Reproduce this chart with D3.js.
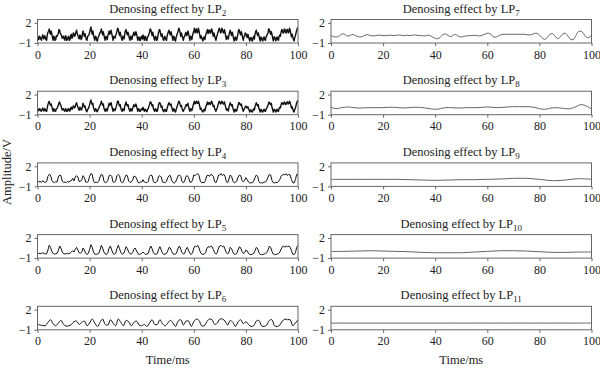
<!DOCTYPE html>
<head>
<meta charset="utf-8">
<style>
  body { margin: 0; background: #fff; }
  svg text { font-family: "Liberation Serif", "DejaVu Serif", serif; }
  .frame { fill: none; stroke: #666; stroke-width: 1; }
  .axis path { display: none; }
  .axis line { stroke: #666; }
  .axis text { font-size: 12px; fill: #222; }
  .title { font-size: 12.5px; fill: #222; text-anchor: middle; }
  .label { font-size: 12.5px; fill: #222; text-anchor: middle; }
  .signal { fill: none; stroke-linejoin: round; }
</style>
</head>
<body>

<svg width="600" height="368"></svg>
<script src="https://d3js.org/d3.v7.min.js"></script>

<script>

var xTicks = [0, 20, 40, 60, 80, 100];
var yTicks = [-1, 2];
var panelNames = ["2", "3", "4", "5", "6", "7", "8", "9", "10", "11"];
// sample spacing (ms) of each series
var sampleSteps = [0.25, 0.25, 0.5, 0.5, 1, 1, 2, 5, 5, 5];

// values, one per sample
var lp2 = [
  0.1,-0.3,-0.5,0.0,-0.1,-0.4,-0.6,-0.1,0.2,-0.2,-0.4,0.1,-0.1,-0.5,-0.6,0.2,0.6,0.7,1.1,0.5,0.3,0.8,0.4,-0.2,-0.6,0.0,-0.1,-0.6,-0.5,0.1,0.0,0.2,0.5,1.0,0.9,0.4,0.3,0.1,-0.3,-0.1,
  0.0,-0.4,-0.6,0.1,-0.1,-0.6,-0.5,-0.1,0.0,-0.6,-0.5,0.1,0.3,-0.3,-0.1,0.5,0.4,0.0,0.2,0.6,0.9,0.4,0.1,-0.2,-0.4,0.2,0.1,-0.5,-0.3,0.4,0.8,0.3,0.0,0.4,-0.1,-0.5,-0.6,0.0,0.1,0.2,
  0.6,1.0,1.4,0.7,0.3,0.8,0.2,-0.3,-0.6,0.0,-0.1,-0.6,-0.7,-0.2,0.0,0.3,0.5,0.7,1.1,0.6,0.2,0.7,0.2,-0.3,-0.6,0.0,-0.2,-0.5,0.1,0.4,0.8,0.3,0.5,0.9,0.4,-0.1,-0.6,0.0,-0.1,-0.3,
  0.1,0.4,0.7,1.2,1.1,0.5,0.1,0.6,0.1,-0.3,-0.6,0.0,-0.1,-0.4,0.4,0.8,1.0,0.5,0.2,0.6,0.2,-0.3,-0.6,0.0,-0.1,-0.5,0.1,0.3,0.6,0.1,0.2,0.7,0.4,-0.1,-0.6,-0.2,-0.1,-0.6,-0.6,-0.1,
  0.0,-0.4,0.2,-0.2,-0.6,0.0,-0.1,-0.6,-0.6,-0.1,0.0,0.3,0.6,1.1,1.0,0.5,0.1,0.6,0.1,-0.4,-0.6,0.0,-0.1,-0.6,-0.5,0.1,0.6,1.0,0.9,0.4,0.0,0.4,-0.1,-0.5,-0.6,0.0,-0.1,-0.5,-0.6,0.0,
  0.4,0.7,0.9,0.4,0.2,0.7,0.3,-0.2,-0.6,0.0,-0.1,-0.6,-0.7,-0.1,0.2,0.5,0.8,1.2,1.0,0.5,0.0,0.5,0.1,-0.3,-0.6,-0.1,0.0,0.4,0.6,0.1,0.3,0.8,0.4,-0.1,-0.6,0.0,-0.1,-0.5,0.1,0.5,
  0.8,1.2,0.5,0.9,1.1,0.5,0.6,1.2,0.8,0.3,-0.3,0.1,-0.1,-0.5,-0.7,-0.2,-0.1,-0.5,0.1,0.4,0.7,1.0,0.4,0.9,0.9,0.5,0.5,1.1,1.0,0.4,0.0,0.5,0.1,-0.3,-0.6,-0.1,0.2,0.6,0.8,1.2,
  1.0,0.5,0.6,1.2,1.0,0.6,0.5,1.0,0.6,0.0,-0.5,0.0,-0.1,-0.4,0.2,0.6,0.9,0.4,0.1,0.6,0.2,-0.3,-0.7,-0.2,-0.1,-0.6,-0.5,0.0,0.5,1.0,0.9,0.4,0.2,0.7,0.3,-0.2,-0.6,-0.1,0.1,0.5,
  0.4,0.0,-0.2,0.3,0.0,-0.4,-0.7,-0.2,-0.2,-0.6,-0.7,-0.2,0.0,-0.4,0.3,0.7,0.9,0.4,0.1,0.5,0.1,-0.4,-0.7,-0.1,-0.2,-0.6,-0.7,-0.2,-0.1,-0.5,-0.6,-0.1,0.1,0.3,0.5,1.1,1.0,0.6,0.3,0.7,
  0.3,-0.2,-0.7,-0.1,-0.1,-0.5,-0.7,-0.2,-0.1,-0.5,-0.6,0.0,0.2,0.0,0.6,1.0,0.9,0.5,0.5,1.1,1.0,0.6,0.5,1.0,1.0,0.5,0.6,1.2,0.9,0.4,-0.1,0.3,-0.1,-0.5,-0.7,-0.2,0.1,0.5,0.9,1.2,
  1.3
];
var lp3 = [
  -0.1,-0.3,-0.4,-0.1,-0.2,-0.4,-0.5,-0.2,0.0,-0.3,-0.45,-0.1,-0.2,-0.45,-0.5,0.0,0.5,0.8,1.0,0.6,0.4,0.6,0.2,-0.2,-0.5,-0.1,-0.2,-0.5,-0.45,-0.1,-0.1,0.2,0.4,0.8,0.9,0.5,0.4,0.0,-0.3,-0.1,
  -0.15,-0.4,-0.5,-0.1,-0.2,-0.5,-0.45,-0.1,-0.1,-0.45,-0.4,0.0,0.1,-0.2,0.0,0.3,0.2,0.0,0.3,0.6,0.8,0.4,0.1,-0.1,-0.35,0.1,0.0,-0.3,-0.2,0.3,0.7,0.4,0.1,0.3,-0.2,-0.45,-0.55,-0.2,-0.1,0.1,
  0.5,0.9,1.2,0.8,0.5,0.7,0.0,-0.2,-0.5,-0.1,-0.2,-0.5,-0.55,-0.2,-0.1,0.2,0.4,0.6,1.0,0.7,0.4,0.6,0.0,-0.3,-0.5,-0.1,-0.3,-0.45,0.0,0.3,0.7,0.4,0.6,0.8,0.3,-0.1,-0.5,-0.1,-0.2,-0.4,
  -0.1,0.2,0.6,1.0,1.0,0.6,0.3,0.5,-0.1,-0.3,-0.5,-0.1,-0.2,-0.4,0.3,0.6,0.9,0.5,0.3,0.5,0.0,-0.3,-0.5,-0.1,-0.2,-0.45,-0.1,0.2,0.5,0.2,0.3,0.6,0.3,-0.1,-0.5,-0.1,-0.2,-0.5,-0.5,-0.2,
  -0.1,-0.3,0.1,-0.1,-0.5,-0.2,-0.2,-0.5,-0.55,-0.2,-0.1,0.2,0.5,0.9,0.9,0.6,0.3,0.5,-0.1,-0.3,-0.5,-0.1,-0.2,-0.5,-0.45,0.0,0.5,0.8,0.8,0.5,0.1,0.3,-0.2,-0.45,-0.55,-0.2,-0.2,-0.5,-0.5,-0.1,
  0.3,0.6,0.8,0.5,0.4,0.6,0.1,-0.2,-0.5,-0.1,-0.2,-0.5,-0.6,-0.2,0.1,0.4,0.7,1.0,0.9,0.5,0.2,0.4,-0.1,-0.4,-0.5,-0.2,-0.1,0.2,0.5,0.3,0.5,0.7,0.2,-0.2,-0.5,-0.1,-0.2,-0.4,0.0,0.4,
  0.7,1.0,0.6,0.8,1.0,0.7,0.7,1.0,0.7,0.3,-0.2,0.0,-0.3,-0.5,-0.6,-0.3,-0.2,-0.45,0.0,0.3,0.6,0.9,0.5,0.8,0.8,0.5,0.6,1.0,0.9,0.5,0.2,0.4,-0.1,-0.3,-0.5,-0.2,0.0,0.4,0.7,1.0,
  0.9,0.6,0.7,1.0,0.9,0.6,0.6,0.9,0.5,0.1,-0.3,-0.1,-0.3,-0.45,0.1,0.5,0.8,0.5,0.3,0.5,0.0,-0.3,-0.6,-0.2,-0.2,-0.5,-0.4,0.0,0.4,0.8,0.8,0.5,0.4,0.6,0.1,-0.2,-0.5,-0.2,-0.1,0.2,
  0.3,0.1,0.0,0.2,-0.1,-0.3,-0.6,-0.3,-0.3,-0.55,-0.6,-0.3,-0.1,-0.3,0.2,0.5,0.8,0.5,0.3,0.5,-0.1,-0.3,-0.6,-0.2,-0.3,-0.55,-0.6,-0.3,-0.2,-0.45,-0.5,-0.2,0.0,0.2,0.4,0.8,0.9,0.6,0.5,0.7,
  0.1,-0.2,-0.6,-0.2,-0.2,-0.5,-0.6,-0.3,-0.2,-0.45,-0.5,-0.1,0.1,0.0,0.5,0.8,0.8,0.5,0.6,0.9,0.8,0.5,0.6,0.9,0.9,0.6,0.7,1.0,0.8,0.4,0.0,0.2,-0.2,-0.45,-0.6,-0.2,0.0,0.4,0.8,1.0,
  1.1
];
var lp4 = [
  -0.25,-0.35,-0.25,-0.4,-0.15,-0.35,-0.4,-0.3,0.5,0.8, 0.7,-0.1,-0.35,-0.45,-0.3,-0.35,0.4,0.7,0.6,-0.2,
  -0.4,-0.35,-0.45,-0.25,-0.35,-0.2,-0.15,0.2,-0.2,0.4, 0.6,0.4,-0.3,-0.25,0.0,0.6,0.3,-0.35,-0.4,-0.25,
  0.5,0.9,0.8,-0.2,-0.45,-0.35,-0.45,-0.25,0.4,0.8, 0.7,-0.2,-0.45,-0.4,-0.1,0.6,0.7,0.5,-0.35,-0.4,
  -0.2,0.6,0.8,0.6,-0.3,-0.45,-0.3,0.3,0.7,0.6, -0.2,-0.4,-0.35,-0.1,0.5,0.5,0.2,-0.35,-0.5,-0.35,
  -0.35,0.0,-0.35,-0.4,-0.45,-0.25,0.5,0.7,0.6,-0.3, -0.45,-0.4,-0.2,0.5,0.6,0.4,-0.35,-0.4,-0.45,-0.25,
  0.3,0.6,0.6,-0.1,-0.4,-0.5,-0.35,0.1,0.6,0.7, 0.5,-0.3,-0.45,-0.2,0.5,0.6,0.3,-0.35,-0.4,-0.1,
  0.7,0.6,0.8,0.9,0.6,-0.2,-0.45,-0.4,-0.45,-0.1, 0.6,0.7,0.5,0.8,0.7,0.5,-0.3,-0.45,0.0,0.7,
  0.7,0.9,0.6,0.8,0.5,-0.3,-0.45,0.1,0.7,0.5, -0.2,-0.45,-0.4,-0.2,0.4,0.7,0.6,-0.1,-0.35,-0.1,
  0.3,0.0,-0.35,-0.5,-0.45,-0.45,-0.2,0.3,0.7,0.5, -0.3,-0.5,-0.45,-0.5,-0.35,-0.35,-0.1,0.4,0.8,0.7,
  -0.1,-0.45,-0.5,-0.4,-0.45,-0.3,0.0,0.5,0.7,0.8, 0.7,0.9,0.6,0.8,0.7,0.0,-0.45,-0.5,0.0,0.8,
  0.7
];
var lp5 = [
  -0.2,-0.3,-0.35,-0.3,-0.2,-0.3,-0.4,-0.35,0.2,0.9, 0.6,0.0,-0.3,-0.4,-0.35,-0.3,0.1,0.8,0.5,-0.1,
  -0.35,-0.4,-0.35,-0.3,-0.35,-0.25,-0.1,0.1,-0.1,0.3, 0.6,0.2,-0.2,-0.3,-0.1,0.5,0.2,-0.3,-0.45,-0.3,
  0.3,1.0,0.6,-0.1,-0.4,-0.45,-0.4,-0.3,0.2,0.9, 0.5,-0.1,-0.4,-0.45,-0.2,0.5,0.8,0.2,-0.3,-0.45,
  -0.3,0.4,0.9,0.4,-0.2,-0.4,-0.35,0.1,0.7,0.4, -0.1,-0.35,-0.4,-0.2,0.3,0.5,0.1,-0.3,-0.45,-0.4,
  -0.3,-0.1,-0.3,-0.45,-0.4,-0.3,0.3,0.8,0.4,-0.2, -0.4,-0.45,-0.3,0.3,0.7,0.2,-0.3,-0.45,-0.4,-0.3,
  0.1,0.6,0.5,0.0,-0.35,-0.45,-0.4,-0.1,0.5,0.8, 0.3,-0.2,-0.4,-0.3,0.3,0.6,0.1,-0.3,-0.45,-0.2,
  0.5,0.8,0.7,0.9,0.5,-0.1,-0.4,-0.45,-0.4,-0.2, 0.4,0.7,0.6,0.8,0.7,0.3,-0.2,-0.4,-0.2,0.5,
  0.8,0.9,0.7,0.8,0.3,-0.2,-0.4,-0.1,0.6,0.4, -0.1,-0.4,-0.45,-0.3,0.2,0.7,0.5,0.0,-0.3,-0.2,
  0.2,0.1,-0.3,-0.45,-0.5,-0.4,-0.3,0.1,0.6,0.4, -0.2,-0.45,-0.5,-0.45,-0.4,-0.3,-0.2,0.2,0.8,0.6,
  0.0,-0.4,-0.5,-0.45,-0.4,-0.35,-0.1,0.3,0.7,0.8, 0.6,0.8,0.7,0.8,0.6,0.1,-0.4,-0.5,-0.2,0.6,
  0.9
];
var lp6 = [
  -0.1,-0.3,-0.35,-0.4,0.1,0.5,-0.1,-0.4,0.0,0.4,
  -0.2,-0.45,-0.4,-0.2,0.2,0.3,-0.2,0.1,0.3,-0.4,
  0.0,0.6,0.0,-0.5,0.1,0.6,-0.2,-0.3,0.5,0.0,
  -0.4,0.6,0.1,-0.4,0.4,0.2,-0.4,0.1,0.3,-0.3,
  -0.4,-0.2,-0.5,0.0,0.5,-0.2,-0.2,0.5,-0.1,-0.4,
  0.0,0.4,0.0,-0.5,0.3,0.5,-0.3,0.3,0.3,-0.5,
  0.2,0.6,0.4,-0.4,-0.4,0.2,0.6,0.5,-0.2,0.0,
  0.6,0.6,0.3,-0.3,0.4,0.1,-0.5,0.2,0.5,-0.1,
  0.2,-0.2,-0.5,-0.4,0.3,0.4,-0.4,-0.5,-0.3,0.4,
  0.5,-0.4,-0.5,-0.3,0.3,0.6,0.5,0.5,-0.4,0.0,
  0.5
];
var lp7 = [
  0.1,-0.05,-0.1,0.0,0.3,0.35,0.1,0.05,0.25,0.2,
  0.0,-0.1,-0.05,0.15,0.25,0.1,0.05,0.1,0.15,0.15,
  0.1,0.1,0.15,0.15,0.1,0.15,0.2,0.15,0.1,0.15,
  0.1,0.15,0.2,0.15,0.1,0.1,0.05,0.15,0.1,-0.1,
  -0.3,-0.35,-0.1,0.25,0.35,0.1,-0.05,0.2,0.25,0.0,
  -0.1,0.0,0.05,0.1,0.1,0.15,0.1,0.05,0.15,0.3,
  0.45,0.4,0.05,-0.15,0.0,0.2,0.3,0.3,0.3,0.3,
  0.3,0.3,0.3,0.3,0.3,0.25,0.2,0.25,0.4,0.45,
  0.2,-0.2,-0.45,-0.2,0.3,0.4,0.0,-0.35,-0.1,0.35,
  0.45,0.0,-0.45,-0.5,0.1,0.7,0.75,0.4,-0.1,-0.2,
  0.2
];
var lp8 = [
  0.1,-0.1,0.05,0.15,0.1,0.0,0.0,0.05,0.05,0.05,
  0.05,0.1,0.1,0.05,0.0,0.05,0.1,0.1,0.0,-0.1,
  -0.2,-0.1,0.05,0.05,0.0,0.0,0.05,0.05,0.05,0.1,
  0.15,0.1,0.05,0.1,0.15,0.2,0.2,0.2,0.2,0.1,
  -0.1,-0.2,-0.05,0.05,0.0,-0.1,-0.1,0.2,0.5,0.3,
  -0.15
];
var lp9 = [0.05,0.05,0.05,0.05,0.05,0.05,0.0,-0.05,-0.1,-0.05,0.0,0.0,0.05,0.1,0.2,0.2,0.05,-0.15,-0.05,0.15,0.05];
var lp10 = [0.0,0.0,0.05,0.1,0.05,0.0,-0.05,-0.15,-0.2,-0.2,-0.2,-0.1,0.0,0.1,0.1,0.05,-0.05,-0.15,-0.15,-0.1,-0.1];
var lp11 = [0,0,0,0,0,0,0,0,0,0,0,0,0,0,0,0,0,0,0,0,0];

var allSeries = [lp2, lp3, lp4, lp5, lp6, lp7, lp8, lp9, lp10, lp11];

var svg = d3.select("svg");

var colLeft = [37.5, 331];
var plotW = 260.5;
var plotH = 23.5;
var rowTop = [19.5, 91.2, 162.9, 234.6, 306.3];

var x = d3.scaleLinear().domain([0, 100]).range([0, plotW]);
var y = d3.scaleLinear().domain([-1, 2.5]).range([plotH, 0]);

var line = d3.line()
  .x((d) => { return x(d.t); })
  .y((d) => { return y(d.v); });

svg.append("defs").append("clipPath")
    .attr("id", "plotclip")
  .append("rect")
    .attr("x", 0).attr("y", 0)
    .attr("width", plotW).attr("height", plotH);

panelNames.forEach((name, i) => {
  var col = i < 5 ? 0 : 1;
  var row = i % 5;
  var step = sampleSteps[i];
  var pts = allSeries[i].map((v, k) => { return { t: k * step, v: v }; });

  var g = svg.append("g")
      .attr("transform", "translate(" + colLeft[col] + "," + rowTop[row] + ")");

  // title with subscript
  var title = g.append("text")
      .attr("class", "title")
      .attr("x", plotW / 2)
      .attr("y", -7);
  title.append("tspan").text("Denosing effect by LP");
  title.append("tspan")
      .attr("font-size", "9px")
      .attr("dy", "3")
      .text(name);

  var smooth = i >= 4;
  g.append("path")
      .datum(pts)
      .attr("class", "signal")
      .attr("clip-path", "url(#plotclip)")
      .attr("stroke", col === 0 ? "#111" : "#555")
      .attr("stroke-width", i < 2 ? 1.4 : (col === 0 ? 1 : 0.9))
      .attr("d", line.curve(smooth ? d3.curveCatmullRom : d3.curveLinear));

  g.append("rect")
      .attr("class", "frame")
      .attr("width", plotW)
      .attr("height", plotH);

  g.append("g")
      .attr("class", "axis")
      .attr("transform", "translate(0," + plotH + ")")
      .call(d3.axisBottom(x).tickValues(xTicks).tickSize(3).tickPadding(4));

  g.append("g")
      .attr("class", "axis")
      .call(d3.axisLeft(y).tickValues(yTicks).tickFormat(d3.format("d")).tickSize(3).tickPadding(3));
});

// shared axis labels
svg.append("text")
    .attr("class", "label")
    .attr("transform", "translate(11,172) rotate(-90)")
    .text("Amplitude/V");

colLeft.forEach((cx) => {
  svg.append("text")
      .attr("class", "label")
      .attr("x", cx + plotW / 2)
      .attr("y", 364)
      .text("Time/ms");
});

</script>
</body>
